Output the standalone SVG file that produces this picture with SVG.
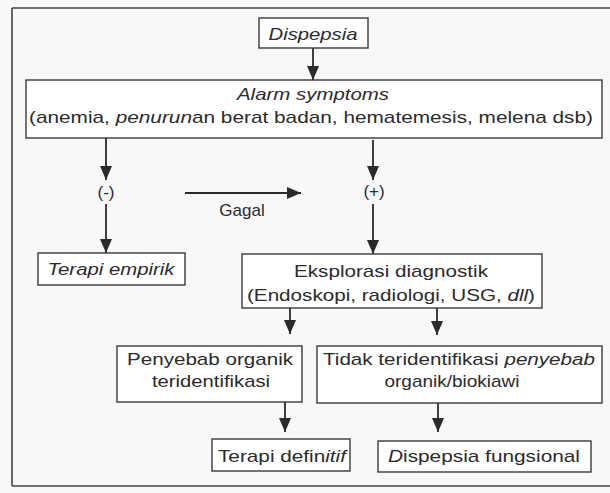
<svg xmlns="http://www.w3.org/2000/svg" width="610" height="493" viewBox="0 0 610 493">
<defs>
<marker id="ah" markerUnits="userSpaceOnUse" markerWidth="14" markerHeight="12" viewBox="0 0 14 12" refX="14" refY="6" orient="auto">
<path d="M0,0 L14,6 L0,12 Z" fill="#2a2a2a"/>
</marker>
</defs>
<style>
.bx{fill:#fff;stroke:#3a3a3a;stroke-width:1.4}
.t{font-family:"Liberation Sans",Arial,sans-serif;font-size:17px;fill:#2b2b2b;text-anchor:middle}
.i{font-style:italic}
.ln{stroke:#2a2a2a;stroke-width:1.8;fill:none;marker-end:url(#ah)}
.fr{stroke:#444;stroke-width:1.6;fill:none}
</style>
<rect width="610" height="493" fill="#f8f8f8"/>
<g id="frame">
<path class="fr" d="M12,8 L610,8 M12,8 L12,486 M12,486 L610,486"/>
</g>
<g id="connectors">
<line class="ln" x1="313" y1="48" x2="313" y2="80"/>
<line class="ln" x1="106" y1="138" x2="106" y2="180"/>
<line class="ln" x1="106" y1="204" x2="106" y2="253"/>
<line class="ln" x1="373" y1="140" x2="373" y2="180"/>
<line class="ln" x1="373" y1="204" x2="373" y2="254"/>
<line class="ln" x1="185" y1="193" x2="301" y2="193"/>
<line class="ln" x1="290" y1="308" x2="290" y2="334"/>
<line class="ln" x1="437" y1="308" x2="437" y2="335"/>
<line class="ln" x1="285" y1="402" x2="285" y2="432"/>
<line class="ln" x1="438" y1="403" x2="438" y2="432"/>
</g>
<g id="dispepsia">
<rect class="bx" x="259" y="18" width="109" height="30"/>
<text class="t i" x="313" y="40" textLength="89" lengthAdjust="spacingAndGlyphs">Dispepsia</text>
</g>
<g id="alarm">
<rect class="bx" x="26" y="80" width="576" height="58"/>
<text class="t i" x="313" y="100" textLength="152" lengthAdjust="spacingAndGlyphs">Alarm symptoms</text>
<text class="t" x="311" y="123" textLength="564" lengthAdjust="spacingAndGlyphs">(anemia, <tspan class="i">penurun</tspan>an berat badan, hematemesis, melena dsb)</text>
</g>
<g id="negatif">
<text class="t" x="106" y="198" font-size="18">(-)</text>
</g>
<g id="positif">
<text class="t" x="374" y="197" font-size="18">(+)</text>
</g>
<g id="gagal">
<text class="t" x="242" y="216" font-size="15">Gagal</text>
</g>
<g id="terapi-empirik">
<rect class="bx" x="38" y="253" width="147" height="32"/>
<text class="t i" x="111" y="275" textLength="127" lengthAdjust="spacingAndGlyphs">Terapi empirik</text>
</g>
<g id="eksplorasi">
<rect class="bx" x="242" y="254" width="300" height="54"/>
<text class="t" x="391" y="277" textLength="194" lengthAdjust="spacingAndGlyphs">Eksplorasi diagnostik</text>
<text class="t" x="391" y="301" textLength="288" lengthAdjust="spacingAndGlyphs">(Endoskopi, radiologi, USG, <tspan class="i">dll</tspan>)</text>
</g>
<g id="penyebab-organik">
<rect class="bx" x="117" y="346" width="185" height="56"/>
<text class="t" x="210" y="365" textLength="166" lengthAdjust="spacingAndGlyphs">Penyebab organik</text>
<text class="t" x="211" y="387" textLength="118" lengthAdjust="spacingAndGlyphs">teridentifikasi</text>
</g>
<g id="tidak-teridentifikasi">
<rect class="bx" x="317" y="346" width="285" height="57"/>
<text class="t" x="459" y="365" textLength="272" lengthAdjust="spacingAndGlyphs">Tidak teridentifikasi <tspan class="i">penyebab</tspan></text>
<text class="t" x="452" y="387" textLength="135" lengthAdjust="spacingAndGlyphs">organik/biokiawi</text>
</g>
<g id="terapi-definitif">
<rect class="bx" x="212" y="439" width="138" height="32"/>
<text class="t" x="282" y="462" textLength="128" lengthAdjust="spacingAndGlyphs">Terapi defin<tspan class="i">itif</tspan></text>
</g>
<g id="dispepsia-fungsional">
<rect class="bx" x="378" y="441" width="213" height="31"/>
<text class="t" x="484" y="462" textLength="192" lengthAdjust="spacingAndGlyphs"><tspan class="i">D</tspan>ispepsia fungsional</text>
</g>
</svg>
